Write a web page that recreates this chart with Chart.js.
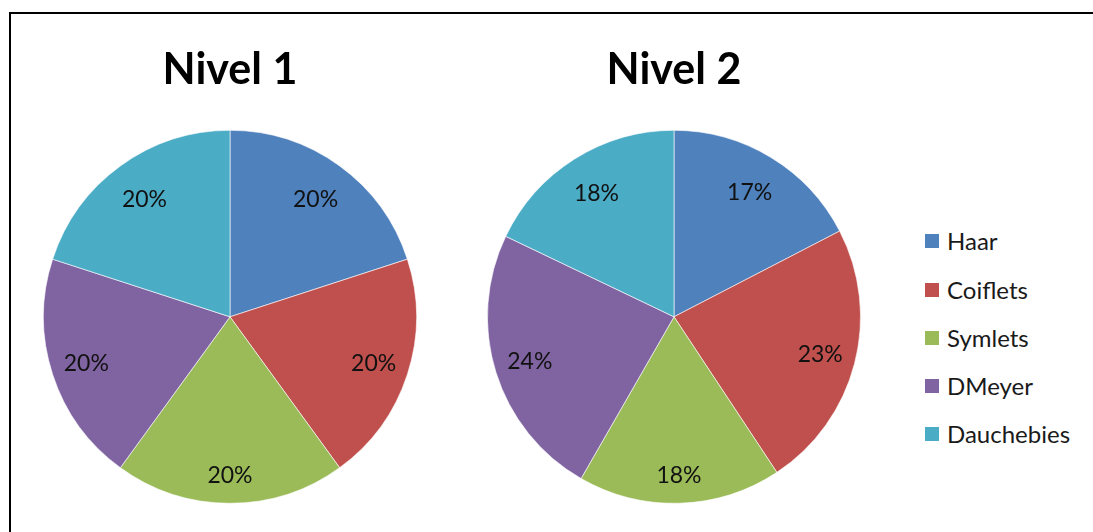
<!DOCTYPE html>
<html>
<head>
<meta charset="utf-8">
<script src="https://cdn.jsdelivr.net/npm/chart.js@4.4.1/dist/chart.umd.min.js"></script>
<style>
  html, body { margin: 0; padding: 0; background: #fff; width: 1093px; height: 532px; overflow: hidden; }
  #frame { position: absolute; left: 9px; top: 12px; width: 1300px; height: 800px; border: 2px solid #000; box-shadow: 1px 1px 0 #aaa; }
  .box { position: absolute; }
  #legend { position: absolute; left: 925px; top: 0; font-family: Lato, "Open Sans", sans-serif; font-size: 24px; color: #1a1a1a; }
  .item { position: absolute; left: 0; white-space: nowrap; height: 28px; line-height: 28px; }
  .sw { position: absolute; left: 0; top: 7px; width: 14px; height: 14px; }
  .lt { position: absolute; left: 22px; top: 0; }
</style>
</head>
<body>
<div id="frame"></div>
<div class="box" style="left:43px; top:32px; width:374px; height:472px;"><canvas id="c1" width="374" height="472"></canvas></div>
<div class="box" style="left:487px; top:32px; width:374px; height:472px;"><canvas id="c2" width="374" height="472"></canvas></div>
<div id="legend"></div>
<script>
const categories = ["Haar", "Coiflets", "Symlets", "DMeyer", "Dauchebies"];
const nivel1Values = [20, 20, 20, 20, 20];
const nivel2Values = [17.4, 23.3, 17.6, 23.8, 17.9];
const titles = ["Nivel 1", "Nivel 2"];
const colors = ["#4F81BD", "#C0504D", "#9BBB59", "#8064A2", "#4BACC6"];
const legendY = [241, 290, 338, 386, 434];

const labelPlugin = {
  id: 'pctLabels',
  afterDatasetsDraw(chart) {
    const ctx = chart.ctx;
    const ds = chart.data.datasets[0];
    const total = ds.data.reduce((a, b) => a + b, 0);
    const meta = chart.getDatasetMeta(0);
    ctx.save();
    ctx.font = '23px Lato, "Open Sans", sans-serif';
    ctx.fillStyle = '#111';
    ctx.textAlign = 'center';
    ctx.textBaseline = 'middle';
    meta.data.forEach((arc, i) => {
      const p = arc.getProps(['startAngle', 'endAngle', 'outerRadius', 'x', 'y'], true);
      const mid = (p.startAngle + p.endAngle) / 2;
      const down = Math.sin(mid);
      const f = down > 0.9 ? 0.85 : (down < -0.5 ? 0.78 : 0.81);
      const r = p.outerRadius * f;
      const x = p.x + Math.cos(mid) * r;
      const y = p.y + Math.sin(mid) * r;
      ctx.fillText(Math.round(ds.data[i] / total * 100) + '%', x, y);
    });
    ctx.restore();
  }
};

function makePie(id, title, values) {
  return new Chart(document.getElementById(id), {
    type: 'pie',
    data: {
      labels: categories,
      datasets: [{
        data: values,
        backgroundColor: colors,
        borderColor: 'rgba(255,255,255,0.6)',
        borderWidth: 1
      }]
    },
    options: {
      responsive: false,
      animation: false,
      layout: { padding: 0 },
      plugins: {
        legend: { display: false },
        tooltip: { enabled: false },
        title: {
          display: true,
          text: title,
          color: '#000',
          font: { family: 'Lato, "Open Sans", sans-serif', size: 43, weight: 'bold', lineHeight: 1.2 },
          padding: { top: 12, bottom: 34 }
        }
      }
    },
    plugins: [labelPlugin]
  });
}

makePie('c1', titles[0], nivel1Values);
makePie('c2', titles[1], nivel2Values);

const legend = document.getElementById('legend');
categories.forEach((name, i) => {
  const it = document.createElement('div');
  it.className = 'item';
  it.style.top = (legendY[i] - 14) + 'px';
  const sw = document.createElement('div');
  sw.className = 'sw';
  sw.style.background = colors[i];
  const t = document.createElement('span');
  t.className = 'lt';
  t.textContent = name;
  it.appendChild(sw);
  it.appendChild(t);
  legend.appendChild(it);
});
</script>
</body>
</html>
